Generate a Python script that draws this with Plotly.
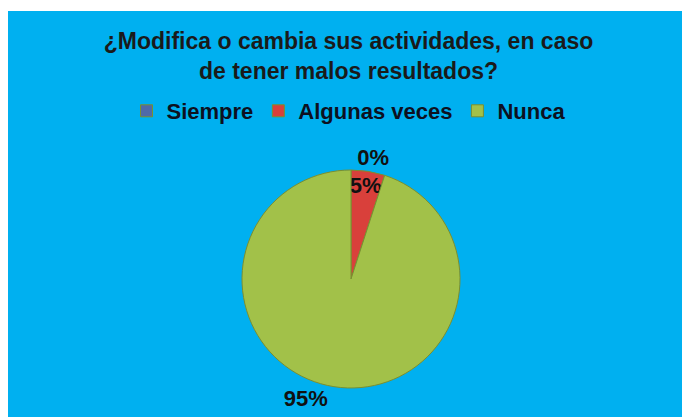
import plotly.graph_objects as go

categories = ["Siempre", "Algunas veces", "Nunca"]
values = [0, 5, 95]
colors = ["#4F6AA8", "#D9403B", "#A2C149"]
title_text = "¿Modifica o cambia sus actividades, en caso<br>de tener malos resultados?"

# page body has an 8px margin, so the figure is sized to fill the rest of the window
W, H = 681, 409
cx, cy, r = 343, 271, 109

fig = go.Figure(go.Pie(
    labels=categories,
    values=values,
    sort=False,
    direction="clockwise",
    rotation=0,
    marker=dict(colors=colors, line=dict(color="#7A8F30", width=1)),
    texttemplate="%{percent:.0%}",
    textposition=["outside", "inside", "outside"],
    textfont=dict(family="Liberation Sans, Arial", size=22, color="#111111", weight="bold"),
    insidetextorientation="horizontal",
    showlegend=True,
    domain=dict(x=[(cx - 300) / W, (cx + 300) / W], y=[(H - (cy + r)) / H, (H - (cy - r)) / H]),
    hoverinfo="label+percent",
))

fig.update_layout(
    width=W, height=H,
    margin=dict(l=0, r=0, t=0, b=0, autoexpand=False),
    paper_bgcolor="#00B0F0",
    font=dict(family="Liberation Sans, Arial", color="#111111"),
    title=dict(text="<b>" + title_text + "</b>", x=0.5, xanchor="center",
               y=1 - 41 / H, yanchor="middle",
               font=dict(size=23, color="#1a1a1a")),
    legend=dict(orientation="h", x=0.5, xanchor="center", y=1 - 103 / H, yanchor="middle",
                font=dict(size=22, color="#0d1020", family="Liberation Sans, Arial", weight="bold"),
                bgcolor="rgba(0,0,0,0)", traceorder="normal"),
    uniformtext=dict(minsize=22, mode="show"),
    shapes=[dict(type="rect", xref="paper", yref="paper", x0=0, x1=1, y0=1 - 3 / H, y1=1,
                 fillcolor="white", line=dict(width=0), layer="below")],
)

fig.write_html("out.html")
